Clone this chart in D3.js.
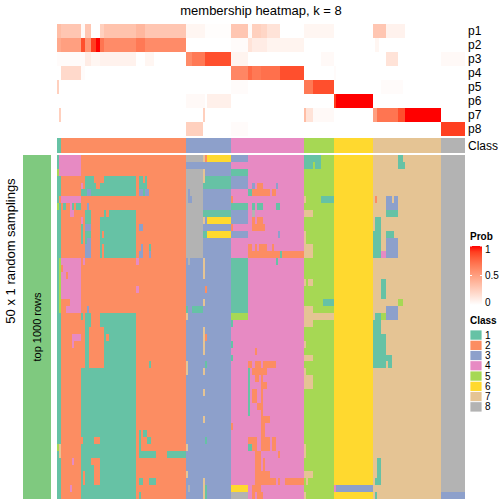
<!DOCTYPE html>
<html><head><meta charset="utf-8">
<script src="https://cdn.jsdelivr.net/npm/d3@7"></script>
<style>body{margin:0;background:#fff}svg{display:block}text{font-family:"Liberation Sans",Arial,sans-serif}</style>
</head><body><svg id="chart" width="504" height="504"></svg>
<script>
// ---------- data ----------
const classNames = ["1","2","3","4","5","6","7","8"];
const classColors = ["#66C2A5","#FC8D62","#8DA0CB","#E78AC3","#A6D854","#FFD92F","#E5C494","#B3B3B3"];
const classCounts = [2,58,21,34,14,18,32,11];   // columns per consensus class
const probLabels = ["p1","p2","p3","p4","p5","p6","p7","p8"];
const probTicks = [0,0.5,1];
const nSamplings = 50;
// membership probabilities: [p index, first col, last col, value]
const probSegments = [
 [0,0,1,0.35],[0,2,10,0.3],[0,11,12,0.03],[0,13,15,0.3],[0,20,21,0.25],[0,22,36,0.32],[0,37,40,0.38],[0,41,59,0.3],[0,60,68,0.05],[0,69,80,0.01],[0,81,88,0.3],[0,89,90,0.02],[0,91,94,0.25],[0,95,97,0.22],[0,98,103,0.15],[0,115,128,0.05],[0,147,152,0.3],[0,153,161,0.07],
 [1,0,1,0.45],[1,2,10,0.5],[1,11,12,0.85],[1,13,15,0.55],[1,16,17,0.9],[1,18,19,1.0],[1,20,21,0.7],[1,22,36,0.6],[1,37,40,0.68],[1,41,59,0.6],[1,81,88,0.02],[1,89,90,0.15],[1,91,97,0.1],[1,98,114,0.06],[1,148,149,0.05],
 [2,0,12,0.02],[2,13,15,0.1],[2,16,19,0.05],[2,20,36,0.07],[2,41,44,0.05],[2,60,62,0.6],[2,63,68,0.68],[2,69,80,0.85],[2,81,88,0.06],[2,123,128,0.03],[2,153,158,0.15],[2,179,189,0.03],
 [3,2,10,0.2],[3,11,12,0.02],[3,81,88,0.62],[3,89,90,0.75],[3,91,97,0.68],[3,95,103,0.72],[3,104,114,0.85],[3,129,129,0.02],
 [4,0,0,0.25],[4,81,88,0.02],[4,115,118,0.68],[4,119,128,0.85],[4,151,160,0.02],
 [5,60,68,0.03],[5,70,80,0.08],[5,129,129,0.9],[5,130,146,1.0],
 [6,1,1,0.25],[6,68,68,0.25],[6,115,115,0.35],[6,116,118,0.15],[6,119,128,0.03],[6,147,148,0.5],[6,149,158,0.7],[6,159,161,0.85],[6,162,178,1.0],
 [7,60,67,0.25],[7,81,88,0.02],[7,179,189,0.9]
];
// class calls per sampling: [first row, last row, first col, last col, class]
const callPatches = [
 [0,2,1,1,4],[2,2,0,0,5],[6,6,1,1,2],[7,7,0,0,5],[15,22,1,1,5],[42,42,0,0,5],[42,43,1,1,7],
 [0,2,2,10,4],
 [3,3,13,16,1],[3,3,22,36,1],[3,3,38,39,1],[3,3,41,41,1],
 [4,4,11,11,4],[4,4,13,17,1],[4,4,20,36,1],[4,4,38,41,1],
 [5,5,11,13,1],[5,5,14,15,3],[5,5,16,36,1],[5,5,38,39,3],[5,5,40,40,1],[5,5,41,42,3],
 [6,6,2,10,4],
 [7,7,3,3,1],[7,7,6,6,4],[7,7,7,7,1],[7,7,9,10,1],[7,7,14,14,3],
 [8,8,6,7,4],[8,8,13,15,1],[8,8,22,22,1],[8,8,24,36,1],
 [9,9,11,11,4],[9,9,13,15,1],[9,9,20,36,1],
 [10,10,11,11,1],[10,10,13,15,3],[10,10,20,36,1],[10,10,38,39,3],
 [11,11,11,11,1],[11,11,13,15,1],[11,11,20,20,1],[11,11,22,36,1],
 [12,12,11,11,1],[12,12,13,13,1],[12,12,14,15,3],[12,12,20,36,1],
 [13,13,13,15,3],[13,13,20,20,1],[13,13,22,36,1],[13,13,39,39,3],[13,13,43,43,1],
 [14,14,13,15,3],[14,14,20,20,1],[14,14,22,36,1],[14,14,38,39,3],[14,14,43,43,3],
 [15,22,2,10,4],[15,15,12,12,4],[15,15,37,37,4],[16,16,2,2,2],[17,17,4,4,2],[19,19,37,37,4],
 [21,21,2,5,2],[22,22,2,3,2],[22,22,14,14,3],
 [23,23,11,11,1],[23,23,13,15,1],[23,23,20,36,1],
 [24,24,13,15,1],[24,24,20,21,1],[24,24,22,36,1],
 [25,29,13,14,1],[25,29,22,36,1],[26,26,7,10,4],[26,26,23,23,2],[27,27,7,7,4],
 [30,30,13,14,1],[30,30,22,36,1],[30,30,43,43,1],
 [31,49,11,36,1],[41,41,11,11,2],[41,41,17,19,2],[44,44,7,7,4],[44,44,16,19,2],[45,47,17,19,2],[46,47,12,12,2],[48,48,6,6,4],
 [40,42,38,38,1],[40,40,40,41,1],[41,41,42,43,1],[43,43,38,45,1],[43,43,51,59,1],[47,47,38,39,1],[47,47,43,45,1],[49,49,38,38,1],
 [0,0,60,67,8],[0,0,68,68,7],[0,0,69,69,2],[0,0,70,80,6],
 [2,14,60,67,8],[5,5,61,61,3],[6,6,61,62,3],
 [2,2,68,68,7],[3,3,68,68,7],[3,4,69,80,1],[4,4,68,68,1],
 [8,8,68,80,1],[9,9,68,68,7],[9,9,70,80,6],[11,11,68,69,1],[11,11,70,80,6],
 [15,17,68,68,7],[15,15,61,61,8],[19,19,69,69,2],[21,21,68,68,7],[22,22,60,60,1],[22,22,63,67,1],[23,23,60,60,7],
 [25,28,68,68,7],[26,26,69,69,2],[30,31,60,60,7],[30,30,69,69,1],[31,31,68,68,7],[34,34,68,68,7],[38,38,68,68,7],
 [42,42,60,60,7],[46,46,60,60,7],[41,41,69,69,1],[48,48,61,61,8],[47,49,68,68,7],[48,49,69,69,1],
 [0,0,81,88,3],[2,2,81,88,1],[3,3,81,88,3],
 [4,4,81,88,3],[4,4,91,91,3],[4,4,93,95,2],[4,4,102,102,3],
 [5,5,89,90,1],[5,5,91,98,2],[5,5,100,101,2],
 [6,6,81,81,2],[7,7,81,88,1],[7,7,91,91,1],[7,7,93,95,1],[7,7,102,103,1],
 [8,8,81,88,3],[8,8,91,91,8],[9,9,81,88,3],[9,9,91,91,2],[9,9,93,94,2],[9,10,95,95,2],
 [10,10,81,81,2],[10,10,91,96,2],[11,11,81,88,3],[11,11,103,103,3],
 [13,13,89,90,2],[13,13,92,92,2],[13,13,94,97,2],[13,13,100,100,2],
 [14,14,89,114,2],[14,14,104,104,1],
 [15,22,81,88,1],[15,15,102,102,1],[23,23,81,88,5],
 [24,24,81,81,1],[27,27,81,81,1],[29,29,81,81,1],[28,28,92,92,2],
 [30,30,89,90,2],[30,30,92,94,2],[30,30,96,101,2],
 [31,37,89,89,1],[31,31,91,97,2],[32,37,95,95,2],[33,33,96,97,2],[32,32,92,93,2],[34,35,91,92,2],[36,36,93,94,2],
 [38,38,95,98,2],[39,40,95,96,2],[39,39,81,81,2],
 [41,42,89,92,2],[41,42,95,98,2],[41,42,100,101,2],[42,42,89,90,1],
 [43,47,92,94,2],[43,43,103,103,2],[44,45,96,96,2],[46,46,95,98,2],
 [47,47,95,101,2],[47,47,103,103,2],[47,47,106,114,2],
 [48,48,81,88,6],[48,48,91,94,2],[49,49,81,88,8],[49,49,91,91,2],[49,49,93,95,2],
 [0,0,115,122,1],[1,1,115,118,1],[1,1,120,122,1],[6,6,115,115,7],[6,6,123,128,1],
 [8,8,115,118,7],[11,12,115,115,7],[13,14,115,118,7],[18,18,115,115,7],[18,18,117,118,7],
 [21,21,124,128,1],[22,22,115,118,7],[23,23,115,128,7],[24,24,115,118,7],[27,27,115,115,7],
 [29,29,115,118,7],[31,31,115,115,7],[32,33,115,118,7],[42,43,115,115,7],[46,46,115,118,7],[47,47,116,116,7],[49,49,115,115,7],
 [48,48,129,129,4],[48,48,130,146,3],
 [0,0,159,160,1],[1,1,159,161,1],[6,6,148,148,2],[6,7,153,158,3],[6,6,156,156,7],[8,8,153,158,1],
 [9,10,148,150,1],[11,14,147,150,1],[11,11,153,156,1],[12,14,153,158,3],[14,14,151,152,4],
 [18,20,151,152,1],[21,21,159,160,5],[22,23,153,158,3],[23,23,148,150,1],[23,23,151,152,5],
 [24,30,147,150,1],[26,30,151,152,1],[29,29,153,155,1],[30,30,154,155,1],
 [44,46,149,150,1],[47,47,148,150,1],[49,49,148,148,1],
 [49,49,179,189,3]
];

// ---------- build matrices ----------
const colClass = [];
classCounts.forEach((n,i)=>{for(let k=0;k<n;k++) colClass.push(i+1);});
const N = colClass.length;
const prob = probLabels.map(()=>new Array(N).fill(0));
probSegments.forEach(([p,c0,c1,v])=>{for(let c=c0;c<=c1;c++) prob[p][c]=v;});
const calls = d3.range(nSamplings).map(()=>colClass.slice());
callPatches.forEach(([r0,r1,c0,c1,k])=>{for(let r=r0;r<=r1;r++)for(let c=c0;c<=c1;c++)calls[r][c]=k;});

// ---------- scales ----------
const svg = d3.select("#chart");
const x = d3.scaleBand().domain(d3.range(N)).range([57,465]);
const yP = d3.scaleBand().domain(probLabels).range([24,136]);
const yC = d3.scaleBand().domain(["Class"]).range([138,152.7]);
const yB = d3.scaleBand().domain(d3.range(nSamplings)).range([155,499]);
const probColor = d3.scaleLinear().domain([0,1]).range(["#FFFFFF","#FF0000"]).interpolate(d3.interpolateLab);
const classColor = d3.scaleOrdinal().domain(d3.range(1,9)).range(classColors);

const cellsP = [];
probLabels.forEach((lab,i)=>prob[i].forEach((v,c)=>cellsP.push({lab,c,v})));
svg.append("g").attr("shape-rendering","crispEdges").selectAll("rect").data(cellsP).join("rect")
  .attr("x",d=>x(d.c)).attr("width",x.bandwidth()+0.4)
  .attr("y",d=>yP(d.lab)).attr("height",yP.bandwidth()+0.3)
  .attr("fill",d=>probColor(d.v));

svg.append("g").attr("shape-rendering","crispEdges").selectAll("rect").data(colClass).join("rect")
  .attr("x",(d,i)=>x(i)).attr("width",x.bandwidth()+0.4)
  .attr("y",yC("Class")).attr("height",yC.bandwidth())
  .attr("fill",d=>classColor(d));

const cellsB = [];
calls.forEach((row,r)=>row.forEach((k,c)=>cellsB.push({r,c,k})));
svg.append("g").attr("shape-rendering","crispEdges").selectAll("rect").data(cellsB).join("rect")
  .attr("x",d=>x(d.c)).attr("width",x.bandwidth()+0.4)
  .attr("y",d=>yB(d.r)).attr("height",yB.bandwidth()+0.3)
  .attr("fill",d=>classColor(d.k));

// labels right of top annotation
svg.append("g").selectAll("text").data(probLabels).join("text")
  .attr("x",468).attr("y",d=>yP(d)+yP.bandwidth()/2).attr("dy","0.35em")
  .attr("font-size",12).text(d=>d);
svg.append("text").attr("x",468).attr("y",yC("Class")+yC.bandwidth()/2).attr("dy","0.35em")
  .attr("font-size",12).text("Class");

// title
svg.append("text").attr("x",261).attr("y",15).attr("text-anchor","middle").attr("font-size",13)
  .text("membership heatmap, k = 8");

// left split annotation
svg.append("rect").attr("x",23).attr("y",155).attr("width",28).attr("height",344).attr("fill","#7FC97F");
svg.append("text").attr("transform","translate(41,327) rotate(-90)").attr("text-anchor","middle")
  .attr("font-size",11).text("top 1000 rows");
svg.append("text").attr("transform","translate(15,251) rotate(-90)").attr("text-anchor","middle")
  .attr("font-size",13).text("50 x 1 random samplings");

// Prob legend
const defs = svg.append("defs");
const grad = defs.append("linearGradient").attr("id","pg").attr("x1",0).attr("y1",1).attr("x2",0).attr("y2",0);
d3.range(0,1.0001,0.1).forEach(t=>grad.append("stop").attr("offset",t).attr("stop-color",probColor(t)));
const yL = d3.scaleLinear().domain([0,1]).range([305,246]);
const yLab = d3.scaleLinear().domain([0,1]).range([302,249]);
svg.append("text").attr("x",470).attr("y",240).attr("font-size",10).attr("font-weight","bold").text("Prob");
svg.append("rect").attr("x",470).attr("y",yL(1)).attr("width",12).attr("height",yL(0)-yL(1)).attr("fill","url(#pg)");
probTicks.forEach(v=>{
  svg.append("line").attr("x1",470).attr("x2",472).attr("y1",yL(v)).attr("y2",yL(v)).attr("stroke","#fff");
  svg.append("line").attr("x1",480).attr("x2",482).attr("y1",yL(v)).attr("y2",yL(v)).attr("stroke","#fff");
  svg.append("text").attr("x",485).attr("y",yLab(v)).attr("dy","0.35em").attr("font-size",10).text(v);
});

// Class legend
svg.append("text").attr("x",470).attr("y",323.5).attr("font-size",10).attr("font-weight","bold").text("Class");
const yK = d3.scaleBand().domain(classNames).range([330,412]);
svg.append("g").selectAll("rect").data(classNames).join("rect")
  .attr("x",470).attr("y",d=>yK(d)).attr("width",12).attr("height",yK.bandwidth())
  .attr("fill",(d,i)=>classColors[i]).attr("stroke","#fff").attr("stroke-width",0.8);
svg.append("g").selectAll("text").data(classNames).join("text")
  .attr("x",485).attr("y",d=>yK(d)+yK.bandwidth()/2).attr("dy","0.35em").attr("font-size",10).text(d=>d);
</script></body></html>
